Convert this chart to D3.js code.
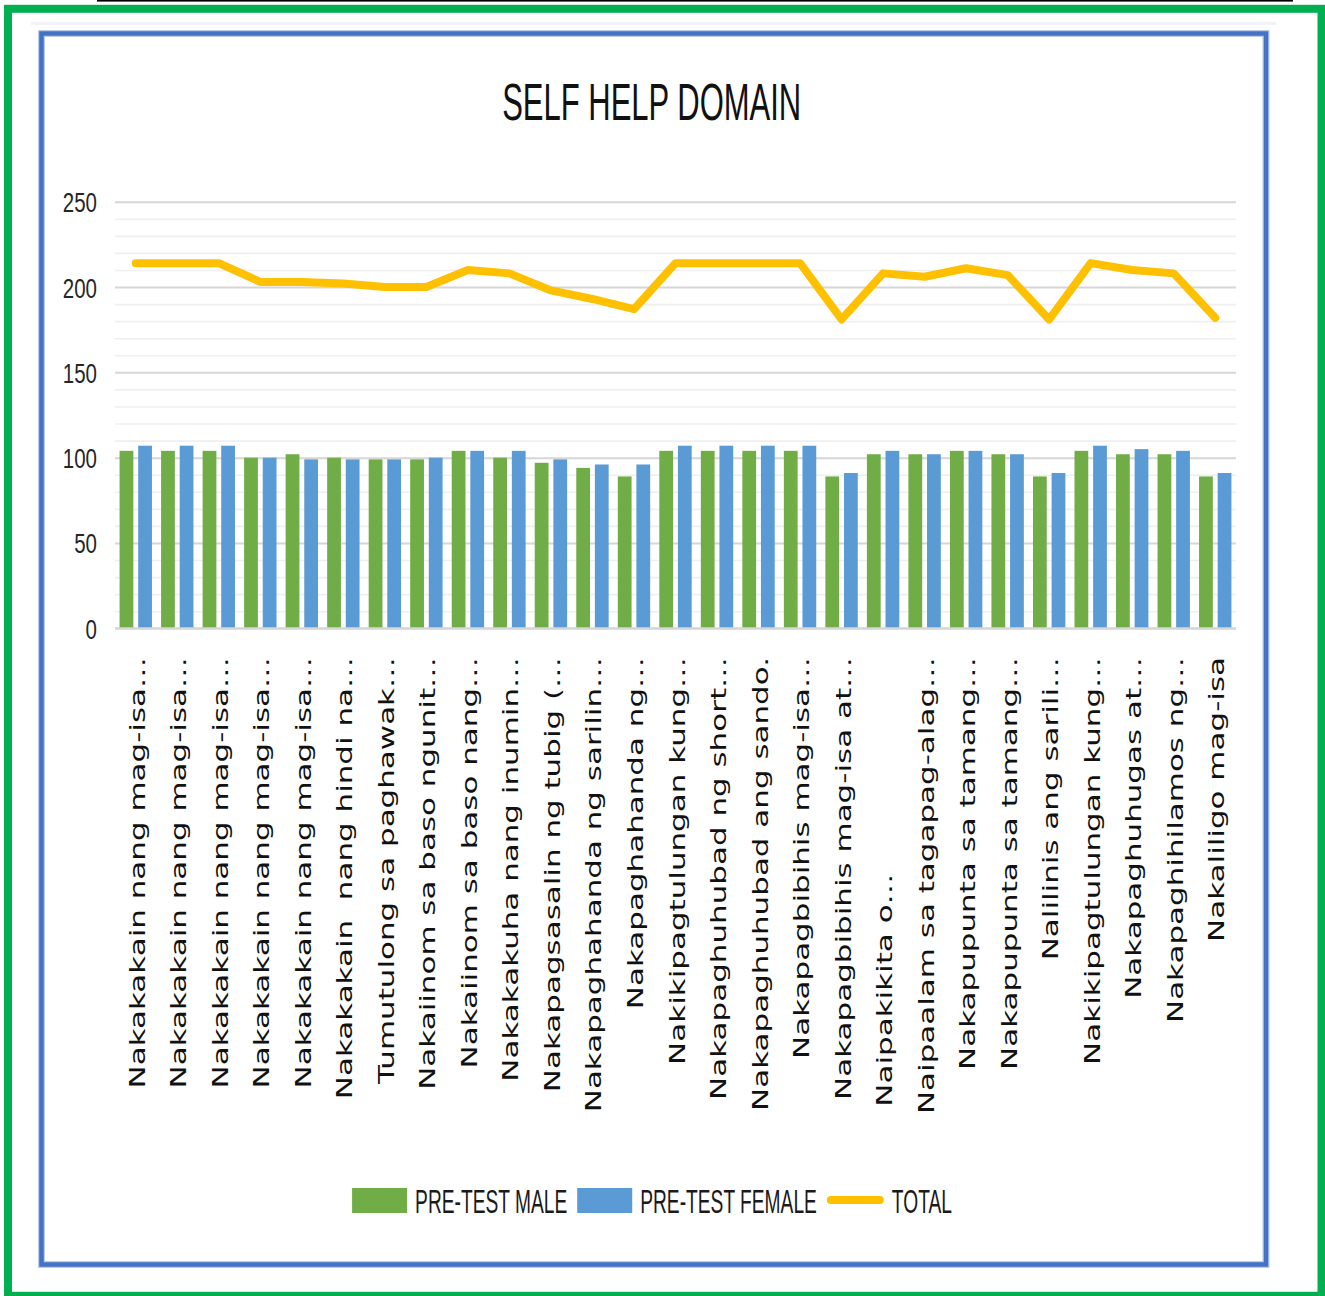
<!DOCTYPE html>
<html><head><meta charset="utf-8">
<script src="https://cdn.jsdelivr.net/npm/d3@7"></script>
<style>
html,body{margin:0;padding:0;background:#fff;}
svg{display:block;}
.cat{white-space:pre;}
</style></head>
<body><svg id="chart" width="1325" height="1296"></svg>
<script>
const title = "SELF HELP DOMAIN";
const categories = [
  "Nakakakain nang mag-isa…",
  "Nakakakain nang mag-isa…",
  "Nakakakain nang mag-isa…",
  "Nakakakain nang mag-isa…",
  "Nakakakain nang mag-isa…",
  "Nakakakain  nang hindi na…",
  "Tumutulong sa paghawak…",
  "Nakaiinom sa baso ngunit…",
  "Nakaiinom sa baso nang…",
  "Nakakakuha nang inumin…",
  "Nakapagsasalin ng tubig (…",
  "Nakapaghahanda ng sarilin…",
  "Nakapaghahanda ng…",
  "Nakikipagtulungan kung…",
  "Nakapaghuhubad ng short…",
  "Nakapaghuhubad ang sando.",
  "Nakapagbibihis mag-isa…",
  "Nakapagbibihis mag-isa at…",
  "Naipakikita o…                      ",
  "Naipaalam sa tagapag-alag…",
  "Nakapupunta sa tamang…",
  "Nakapupunta sa tamang…",
  "Nalilinis ang sarili…",
  "Nakikipagtulungan kung…",
  "Nakapaghuhugas at…",
  "Nakapaghihilamos ng…",
  "Nakaliligo mag-isa"
];
const preTestMale   = [104,104,104,100,102,100,99,99,104,100,97,94,89,104,104,104,104,89,102,102,104,102,89,104,102,102,89];
const preTestFemale = [107,107,107,100,99,99,99,100,104,104,99,96,96,107,107,107,107,91,104,102,104,102,91,107,105,104,91];
const total         = [214,214,214,203,203,202,200,200,210,208,198,193,187,214,214,214,214,181,208,206,211,207,181,214,210,208,182];
const yTicks = [0, 50, 100, 150, 200, 250];
const seriesNames = ["PRE-TEST MALE", "PRE-TEST FEMALE", "TOTAL"];
const seriesColors = ["#70AD47", "#5B9BD5", "#FFC000"];

const svg = d3.select("#chart");
const FONT = "'Liberation Sans', Arial, sans-serif";

// frames
svg.append("rect").attr("x",97).attr("y",0).attr("width",1196).attr("height",1.6).attr("fill","#000");
svg.append("rect").attr("x",8).attr("y",8.8).attr("width",1313.5).attr("height",1287)
  .attr("fill","none").attr("stroke","#00B050").attr("stroke-width",8);
svg.append("rect").attr("x",31).attr("y",22).attr("width",1245).attr("height",3).attr("fill","#f1f3f7");
svg.append("rect").attr("x",41.5).attr("y",33.5).attr("width",1224.5).attr("height",1231)
  .attr("fill","none").attr("stroke","#b9cbe9").attr("stroke-width",7);
svg.append("rect").attr("x",41.5).attr("y",33.5).attr("width",1224.5).attr("height",1231)
  .attr("fill","none").attr("stroke","#4472C4").attr("stroke-width",4.5);

// scales
const x0 = d3.scaleBand().domain(d3.range(categories.length)).range([115,1236]).paddingInner(0.22).paddingOuter(0.11);
const x1 = d3.scaleBand().domain([0,1]).range([0,x0.bandwidth()]).paddingInner(0.26);
const y = d3.scaleLinear().domain([0,250]).range([628.3,201.7]);

// gridlines
const grid = svg.append("g").attr("transform","translate(115,0)")
  .call(d3.axisLeft(y).tickValues(d3.range(0,251,10)).tickSize(-1121).tickFormat(""));
grid.select(".domain").remove();
grid.selectAll(".tick line")
  .attr("stroke", d => d % 50 === 0 ? "#d6d6d6" : "#efefef")
  .attr("stroke-width", d => d % 50 === 0 ? 2 : 1.6);

// y axis labels
const yAxis = svg.append("g").attr("transform","translate(115,0)")
  .call(d3.axisLeft(y).tickValues(yTicks).tickSize(0));
yAxis.select(".domain").remove();
yAxis.selectAll(".tick text")
  .attr("x",0).attr("dy",null).attr("y",0)
  .attr("text-anchor","end")
  .attr("transform","translate(-18,10) scale(1,1.36)")
  .style("font-family",FONT).style("font-size","20.5px").attr("fill","#262626");

// bars
const groups = svg.append("g").selectAll("g").data(categories).join("g")
  .attr("transform",(d,i)=>`translate(${x0(i)},0)`);
groups.append("rect").attr("x",x1(0)).attr("width",x1.bandwidth())
  .attr("y",(d,i)=>y(preTestMale[i])).attr("height",(d,i)=>y(0)-y(preTestMale[i]))
  .attr("fill",seriesColors[0]);
groups.append("rect").attr("x",x1(1)).attr("width",x1.bandwidth())
  .attr("y",(d,i)=>y(preTestFemale[i])).attr("height",(d,i)=>y(0)-y(preTestFemale[i]))
  .attr("fill",seriesColors[1]);

// baseline
svg.append("line").attr("x1",115).attr("x2",1236).attr("y1",y(0)).attr("y2",y(0))
  .attr("stroke","#d6d6d6").attr("stroke-width",2);

// total line
const line = d3.line().x((d,i)=>x0(i)+x0.bandwidth()/2).y(d=>y(d));
svg.append("path").datum(total).attr("d",line).attr("fill","none")
  .attr("stroke",seriesColors[2]).attr("stroke-width",8)
  .attr("stroke-linejoin","round").attr("stroke-linecap","round");

// category labels
svg.append("g").selectAll("text").data(categories).join("text")
  .attr("class","cat")
  .attr("transform",(d,i)=>`translate(${x0(i)+x0.bandwidth()/2},657) rotate(-90) scale(1.51,1)`)
  .attr("x",0).attr("y",9)
  .attr("text-anchor","end")
  .style("font-family","'DejaVu Sans', Verdana, sans-serif")
  .style("font-size","20.5px").attr("fill","#111")
  .text(d=>d);

// title
svg.append("text").attr("transform","translate(651.7,120) scale(1,1.65)")
  .attr("text-anchor","middle").style("font-family",FONT).style("font-size","31px")
  .attr("fill","#111").text(title);

// legend
const leg = svg.append("g");
const items = seriesNames.map((name,i)=>{
  const g = leg.append("g");
  const t = g.append("text").attr("x",0).attr("y",0)
    .style("font-family",FONT).style("font-size","19.2px").attr("fill","#1a1a1a").text(name);
  return {g,t,name,i,w:t.node().getComputedTextLength(),mw: i<2?55:57};
});
let totalW = 0;
items.forEach((it,k)=>{ totalW += it.mw + 8 + it.w + (k<items.length-1?10:0); });
let cx = 652 - totalW/2;
items.forEach(it=>{
  if (it.i<2) {
    it.g.insert("rect","text").attr("x",cx).attr("y",1188).attr("width",55).attr("height",25)
      .attr("fill",seriesColors[it.i]);
  } else {
    it.g.insert("line","text").attr("x1",cx+4).attr("x2",cx+53).attr("y1",1200).attr("y2",1200)
      .attr("stroke",seriesColors[2]).attr("stroke-width",8).attr("stroke-linecap","round");
  }
  const tx = cx + it.mw + 8;
  it.t.attr("transform",`translate(${tx},1212.7) scale(1,1.76)`);
  cx = tx + it.w + 10;
});
</script>
</body></html>
